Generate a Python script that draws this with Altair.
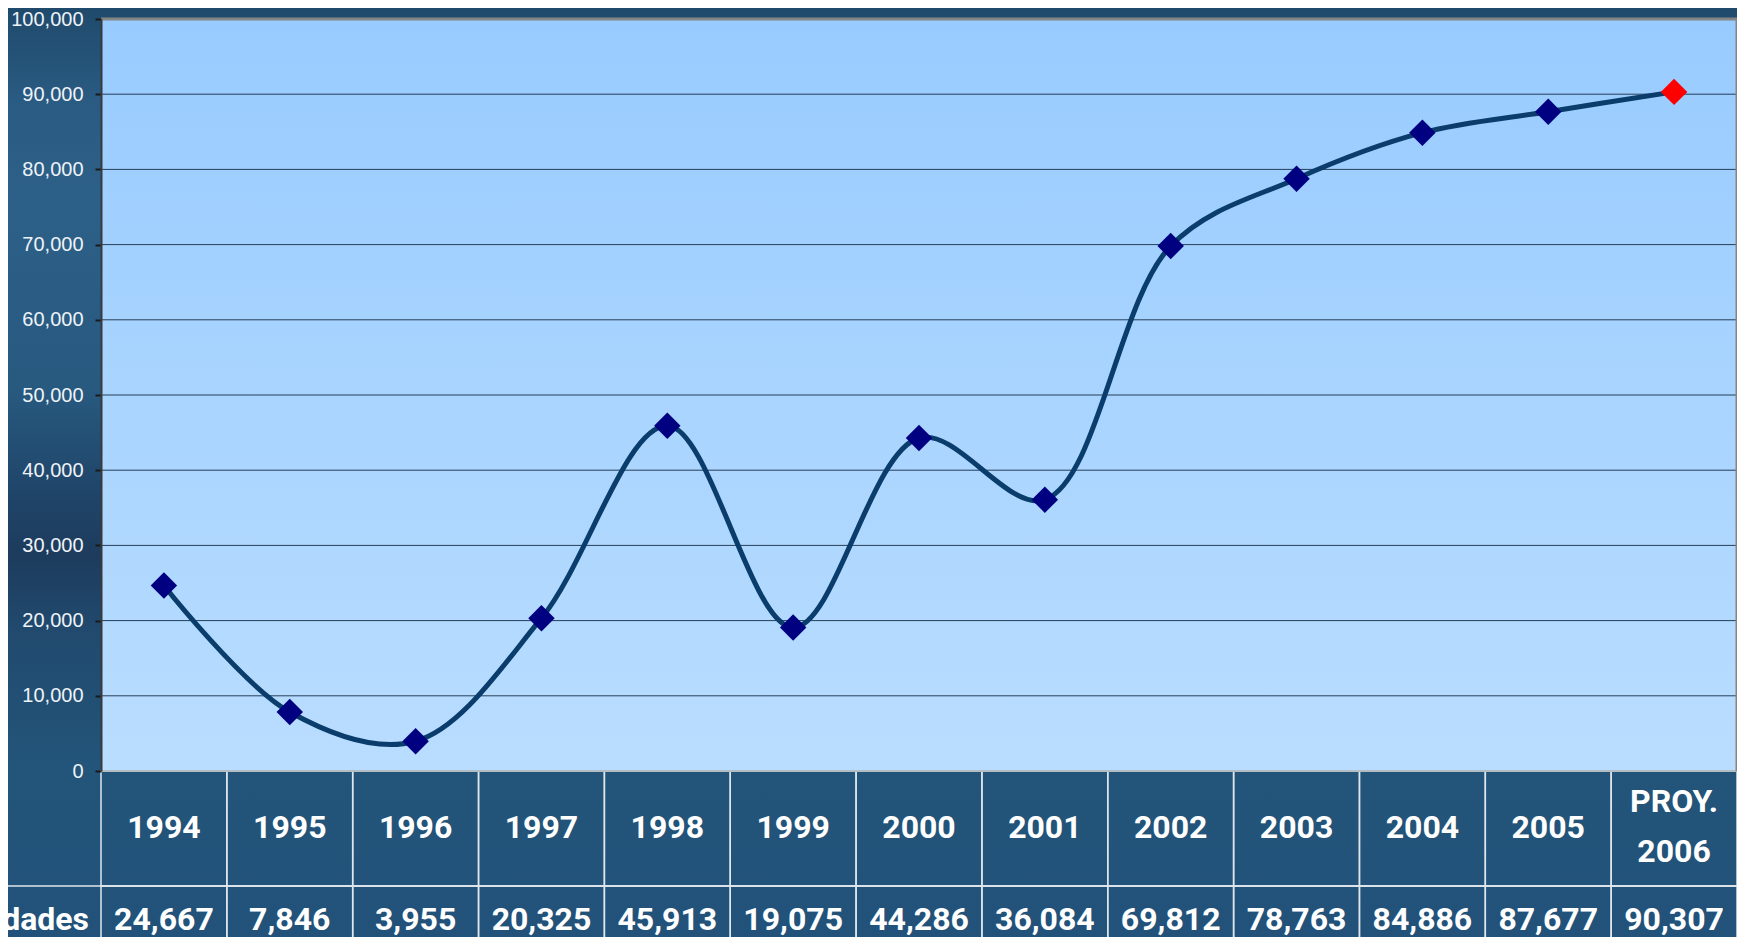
import altair as alt
import pandas as pd

years = ["1994", "1995", "1996", "1997", "1998", "1999", "2000",
         "2001", "2002", "2003", "2004", "2005", "PROY.\n2006"]
values = [24667, 7846, 3955, 20325, 45913, 19075, 44286,
          36084, 69812, 78763, 84886, 87677, 90307]
kinds = ["real"] * 12 + ["proy"]
row_title = "Unidades"
y_ticks = [0, 10000, 20000, 30000, 40000, 50000, 60000, 70000, 80000, 90000, 100000]

df = pd.DataFrame({"year": years, "value": values, "kind": kinds})
ticks_df = pd.DataFrame({"t": y_ticks})
one = pd.DataFrame({"k": [0]})

W, H = 1636, 752
BOLD_FONT = "Roboto, Liberation Sans, sans-serif"
FS = 32

xenc = alt.X("year:N", sort=years,
             scale=alt.Scale(type="band", paddingInner=0, paddingOuter=0),
             axis=None)
yscale = alt.Scale(domain=[0, 100000], nice=False)
yenc = alt.Y("value:Q", scale=yscale,
             axis=alt.Axis(values=y_ticks, format=",d", title=None, grid=False,
                           domainColor="#3a3a3a", domainWidth=2,
                           tickColor="#1a1a1a", tickSize=6, tickWidth=2,
                           labelColor="#eef3f8", labelFontSize=20,
                           labelFont="Liberation Sans, Arial, sans-serif",
                           labelPadding=12, zindex=1))

base = alt.Chart(df)

page_bg = alt.Chart(one).mark_rect(
    fill=alt.LinearGradient(gradient="linear", x1=0, x2=0, y1=0, y2=1, stops=[
        alt.GradientStop(color="#1f4a6c", offset=0),
        alt.GradientStop(color="#2a5b82", offset=0.1),
        alt.GradientStop(color="#2d6088", offset=0.2),
        alt.GradientStop(color="#285a80", offset=0.4),
        alt.GradientStop(color="#1f4468", offset=0.52),
        alt.GradientStop(color="#1d3c5d", offset=0.58),
        alt.GradientStop(color="#214a6e", offset=0.66),
        alt.GradientStop(color="#235479", offset=0.8),
        alt.GradientStop(color="#22527a", offset=1)])
).encode(x=alt.value(-93), x2=alt.value(W + 20), y=alt.value(-11), y2=alt.value(H + 180))

plot_bg = alt.Chart(one).mark_rect(
    fill=alt.LinearGradient(gradient="linear", x1=0, x2=0, y1=0, y2=1, stops=[
        alt.GradientStop(color="#98cbff", offset=0),
        alt.GradientStop(color="#b9ddff", offset=1)])
).encode(x=alt.value(0), x2=alt.value(W), y=alt.value(0), y2=alt.value(H))

grid = alt.Chart(ticks_df).mark_rule(color="#253f58", strokeWidth=1).encode(
    y=alt.Y("t:Q", scale=yscale), x=alt.value(0), x2=alt.value(W))

top_border = alt.Chart(one).mark_rule(color="#858585", strokeWidth=3).encode(
    x=alt.value(0), x2=alt.value(W + 1), y=alt.value(0))
right_border = alt.Chart(one).mark_rule(color="#858585", strokeWidth=3).encode(
    y=alt.value(0), y2=alt.value(H), x=alt.value(W))

line = base.mark_line(interpolate="catmull-rom", color="#0a3d6c", strokeWidth=5).encode(
    x=xenc, y=yenc)

points = base.mark_point(shape="diamond", filled=True, size=700, opacity=1).encode(
    x=xenc, y=alt.Y("value:Q"),
    color=alt.Color("kind:N", scale=alt.Scale(domain=["real", "proy"],
                                              range=["#000080", "#ff0000"]), legend=None))

cells_top = base.mark_rect(fill=None, stroke="#dfe6ec", strokeWidth=1.5).encode(
    x=xenc, y=alt.value(H), y2=alt.value(867))
cells_bot = base.mark_rect(fill=None, stroke="#dfe6ec", strokeWidth=1.5).encode(
    x=xenc, y=alt.value(867), y2=alt.value(H + 200))

bottom_border = alt.Chart(one).mark_rule(color="#b4bcc4", strokeWidth=2).encode(
    x=alt.value(0), x2=alt.value(W), y=alt.value(H))

hline = alt.Chart(one).mark_rule(color="#dfe6ec", strokeWidth=1.5).encode(
    x=alt.value(-120), x2=alt.value(W), y=alt.value(867))

year_text = base.mark_text(font=BOLD_FONT, fontSize=FS, fontWeight="bold", color="white",
                           baseline="middle", align="center").encode(
    x=xenc, y=alt.value(809), text="year:N").transform_filter(alt.datum.kind == "real")

proy_text = base.mark_text(font=BOLD_FONT, fontSize=FS, fontWeight="bold", color="white",
                           lineBreak="\n", lineHeight=50, baseline="middle", align="center").encode(
    x=xenc, y=alt.value(783), text="year:N").transform_filter(alt.datum.kind == "proy")

val_text = base.mark_text(font=BOLD_FONT, fontSize=FS, fontWeight="bold", color="white",
                          baseline="middle", align="center").encode(
    x=xenc, y=alt.value(901), text=alt.Text("value:Q", format=","))

row_label = alt.Chart(one).mark_text(font=BOLD_FONT, fontSize=FS, fontWeight="bold",
                                     color="white", align="right", baseline="middle").encode(
    x=alt.value(-12), y=alt.value(901), text=alt.value(row_title))

chart = alt.layer(page_bg, plot_bg, grid, line, points, cells_top, cells_bot, hline,
                  bottom_border, top_border, right_border,
                  year_text, proy_text, val_text, row_label).properties(
    width=W, height=H,
    autosize=alt.AutoSizeParams(type="none"),
    padding={"left": 93, "top": 11, "right": 0, "bottom": 166},
    background="#1f4d73",
).configure_view(
    stroke=None,
)

chart.save("out.html", embed_options={"renderer": "svg", "actions": False})
